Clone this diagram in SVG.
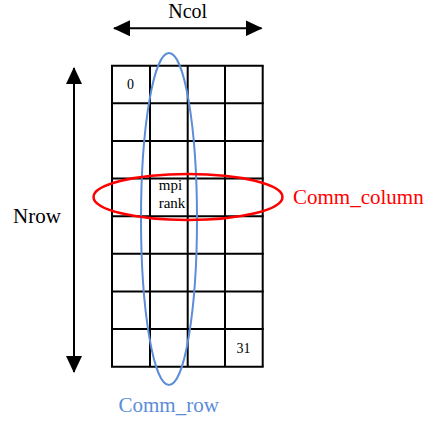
<svg xmlns="http://www.w3.org/2000/svg" width="424" height="421" viewBox="0 0 424 421">
  <style>
    .grid line { stroke: #000; stroke-width: 2; }
    .axis { stroke: #000; stroke-width: 2; fill: none; }
    .lbl { font-family: "Liberation Serif", "Times New Roman", serif; fill: #000; }
    .big { font-size: 21px; }
    .cell { font-size: 14px; }
    .rank { font-size: 15px; }
  </style>
  <defs>
    <marker id="arrow" viewBox="0 0 17 16" refX="16" refY="8" markerWidth="17" markerHeight="16" markerUnits="userSpaceOnUse" orient="auto-start-reverse">
      <path d="M0,0 L17,8 L0,16 Z" fill="#000"/>
    </marker>
  </defs>
  <rect width="424" height="421" fill="#fff"/>

  <!-- 4 x 8 process grid -->
  <g id="grid" class="grid">
    <line x1="112" y1="65.7" x2="112" y2="366.7"/>
    <line x1="150" y1="65.7" x2="150" y2="366.7"/>
    <line x1="187.7" y1="65.7" x2="187.7" y2="366.7"/>
    <line x1="225" y1="65.7" x2="225" y2="366.7"/>
    <line x1="262.7" y1="65.7" x2="262.7" y2="366.7"/>
    <line x1="111" y1="65.7" x2="263.7" y2="65.7"/>
    <line x1="111" y1="103.3" x2="263.7" y2="103.3"/>
    <line x1="111" y1="141" x2="263.7" y2="141"/>
    <line x1="111" y1="178.6" x2="263.7" y2="178.6"/>
    <line x1="111" y1="216.2" x2="263.7" y2="216.2"/>
    <line x1="111" y1="253.8" x2="263.7" y2="253.8"/>
    <line x1="111" y1="291.5" x2="263.7" y2="291.5"/>
    <line x1="111" y1="329" x2="263.7" y2="329"/>
    <line x1="111" y1="366.7" x2="263.7" y2="366.7"/>
  </g>

  <g id="cell-0">
    <text class="lbl cell" x="130.5" y="88.5" text-anchor="middle">0</text>
  </g>
  <g id="cell-31">
    <text class="lbl cell" x="243.5" y="352.5" text-anchor="middle">31</text>
  </g>
  <g id="cell-mpi-rank">
    <text class="lbl rank" x="170.5" y="190" text-anchor="middle">mpi</text>
    <text class="lbl rank" x="172" y="208.3" text-anchor="middle">rank</text>
  </g>

  <!-- communicator groupings -->
  <g id="comm-row">
    <ellipse cx="169" cy="219" rx="28" ry="166" fill="none" stroke="#5b8dd8" stroke-width="2"/>
    <text class="lbl big" x="118.5" y="411.5" style="fill:#5b8dd8">Comm_row</text>
  </g>
  <g id="comm-column">
    <ellipse cx="188" cy="197" rx="94.5" ry="23" fill="none" stroke="#ff0000" stroke-width="2.5"/>
    <text class="lbl big" x="293" y="203.5" style="fill:#ff0000">Comm_column</text>
  </g>

  <!-- dimension arrows -->
  <g id="connectors">
    <line class="axis" x1="114" y1="28.3" x2="261.5" y2="28.3" marker-start="url(#arrow)" marker-end="url(#arrow)"/>
    <line class="axis" x1="74" y1="68" x2="74" y2="372" marker-start="url(#arrow)" marker-end="url(#arrow)"/>
  </g>
  <g id="label-ncol">
    <text class="lbl" x="187.7" y="17.5" text-anchor="middle" style="font-size:20px">Ncol</text>
  </g>
  <g id="label-nrow">
    <text class="lbl big" x="13" y="222.7">Nrow</text>
  </g>
</svg>
